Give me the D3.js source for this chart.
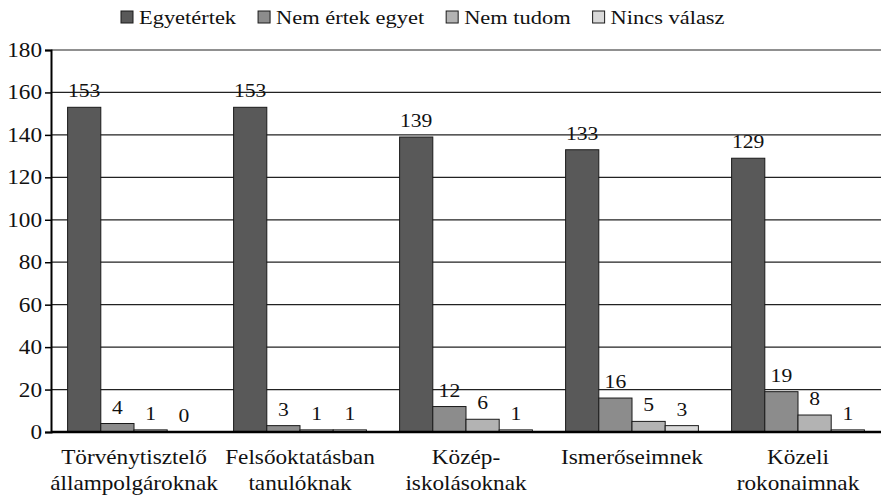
<!DOCTYPE html>
<html>
<head>
<meta charset="utf-8">
<script src="https://cdn.jsdelivr.net/npm/d3@7"></script>
<style>
  body { margin: 0; background: #fff; }
  text { font-family: "Liberation Serif", "Times New Roman", serif; fill: #111; }
</style>
</head>
<body>
<div id="chart"></div>
<script>
"use strict";

// categories (x axis, two lines each)
var categories = [
  ["Törvénytisztelő", "állampolgároknak"],
  ["Felsőoktatásban", "tanulóknak"],
  ["Közép-", "iskolásoknak"],
  ["Ismerőseimnek"],
  ["Közeli", "rokonaimnak"]
];
var seriesNames = ["Egyetértek", "Nem értek egyet", "Nem tudom", "Nincs válasz"];
var egyetertek = [153, 153, 139, 133, 129];
var nemErtek = [4, 3, 12, 16, 19];
var nemTudom = [1, 1, 6, 5, 8];
var nincsValasz = [0, 1, 1, 3, 1];
var yTicks = [0, 20, 40, 60, 80, 100, 120, 140, 160, 180];

var series = [egyetertek, nemErtek, nemTudom, nincsValasz];
var colors = ["#595959", "#8c8c8c", "#b3b3b3", "#d9d9d9"];

// the original text is set a bit wide
var stretch = 1.15;

var width = 885, height = 499;
var margin = {top: 50, right: 4, bottom: 67, left: 51};
var innerW = width - margin.left - margin.right,
    innerH = height - margin.top - margin.bottom;

var svg = d3.select("#chart").append("svg")
    .attr("width", width)
    .attr("height", height);

var g = svg.append("g")
    .attr("transform", "translate(" + margin.left + "," + margin.top + ")");

function addText(parent, x, y, str, size, anchor) {
  return parent.append("text")
      .attr("transform", "translate(" + x + "," + y + ") scale(" + stretch + ",1)")
      .attr("text-anchor", anchor || "middle")
      .style("font-size", size + "px")
      .text(str);
}

// scales
var x0 = d3.scaleBand()
    .domain(d3.range(categories.length))
    .range([0, innerW])
    .paddingInner(0.2)
    .paddingOuter(0.1);
var x1 = d3.scaleBand()
    .domain(d3.range(series.length))
    .range([0, x0.bandwidth()]);
var y = d3.scaleLinear().domain([0, 180]).range([innerH, 0]);

// gridlines
g.append("g").selectAll("line")
  .data(yTicks.slice(1))
  .enter().append("line")
    .attr("x1", 0).attr("x2", innerW)
    .attr("y1", function(d) { return y(d); })
    .attr("y2", function(d) { return y(d); })
    .attr("stroke", "#222")
    .attr("stroke-width", 1.2);

// bars + value labels
series.forEach(function(vals, s) {
  var grp = g.append("g");
  grp.selectAll("rect")
    .data(vals)
    .enter().append("rect")
      .attr("x", function(d, i) { return x0(i) + x1(s); })
      .attr("y", function(d) { return y(d); })
      .attr("width", x1.bandwidth())
      .attr("height", function(d) { return innerH - y(d); })
      .attr("fill", colors[s])
      .attr("stroke", "#1a1a1a")
      .attr("stroke-width", 1);
  vals.forEach(function(d, i) {
    addText(grp, x0(i) + x1(s) + x1.bandwidth() / 2, y(d) - 10, d, 18.8);
  });
});

// y axis
var yAxis = g.append("g")
    .call(d3.axisLeft(y).tickValues(yTicks).tickSize(6).tickFormat(""));
yAxis.select(".domain").attr("stroke", "#000").attr("stroke-width", 2);
yAxis.selectAll(".tick line").attr("stroke", "#000").attr("stroke-width", 1.5);
yTicks.forEach(function(t) {
  addText(yAxis, -9, y(t) + 7, t, 20.2, "end");
});

// x axis baseline
g.append("line")
    .attr("x1", 0).attr("x2", innerW)
    .attr("y1", innerH).attr("y2", innerH)
    .attr("stroke", "#000")
    .attr("stroke-width", 2.5);

// category labels
var xl = g.append("g");
categories.forEach(function(lines, i) {
  lines.forEach(function(line, k) {
    addText(xl, x0(i) + x0.bandwidth() / 2, innerH + 32 + k * 26, line, 20.2);
  });
});

// legend
var legend = svg.append("g").attr("transform", "translate(121,0)");
var lx = 0;
seriesNames.forEach(function(name, s) {
  var item = legend.append("g").attr("transform", "translate(" + lx + ",0)");
  item.append("rect")
      .attr("x", 0).attr("y", 11)
      .attr("width", 12).attr("height", 12)
      .attr("fill", colors[s])
      .attr("stroke", "#1a1a1a");
  var t = addText(item, 18, 23.5, name, 19.5, "start");
  lx += 18 + t.node().getComputedTextLength() * stretch + 22;
});
</script>
</body>
</html>
